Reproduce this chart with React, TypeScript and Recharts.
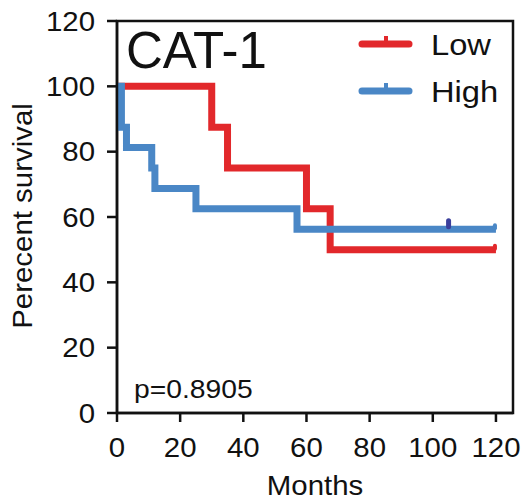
import { LineChart, Line, XAxis, YAxis, ReferenceArea, Legend } from "recharts";

const FONT = '"Liberation Sans", Arial, Helvetica, sans-serif';
const STRETCH = 1.09;
const RED = "#E2282B";
const BLUE = "#4A87C6";
const CENSOR = "#3B3F9C";
const INK = "#111";

// Kaplan-Meier steps: month of event, survival after it, censored flag
const lowMonths = [0, 30, 35, 60, 67.5, 120];
const lowSurvival = [100, 87.5, 75, 62.5, 50, 50];
const lowCensored = [0, 0, 0, 0, 0, 1];

const highMonths = [0, 1.4, 3, 11, 12, 25, 57, 105, 120];
const highSurvival = [100, 87.5, 81.25, 75, 68.75, 62.5, 56.25, 56.25, 56.25];
const highCensored = [0, 0, 0, 0, 0, 0, 0, 1, 1];

const groups = ["Low", "High"];
const xTicks = [0, 20, 40, 60, 80, 100, 120];
const yTicks = [0, 20, 40, 60, 80, 100, 120];

const title = "CAT-1";
const pValue = "p=0.8905";

const toRows = (months: number[], surv: number[], cens: number[]) =>
  months.map((m, i) => ({ month: m, survival: surv[i], censored: cens[i] === 1 }));

const lowData = toRows(lowMonths, lowSurvival, lowCensored);
const highData = toRows(highMonths, highSurvival, highCensored);

const censorDot = (color: string) => (props: any) => {
  const { cx, cy, payload, index } = props;
  if (!payload || !payload.censored) return <g key={`n-${index}`} />;
  if (payload.month >= 120) {
    return <rect key={`c-${index}`} x={cx - 3} y={cy - 6} width={4} height={7} rx={2} fill={color} />;
  }
  return <rect key={`c-${index}`} x={cx - 2.5} y={cy - 11} width={5} height={11} rx={2.5} fill={CENSOR} />;
};

const XTick = (props: any) => {
  const { x, y, payload } = props;
  return (
    <text
      transform={`translate(${x},${y}) scale(${STRETCH},1)`}
      textAnchor="middle"
      dy="0.71em"
      fontSize={27}
      fontFamily={FONT}
      fill={INK}
    >
      {payload.value}
    </text>
  );
};

const YTick = (props: any) => {
  const { x, y, payload } = props;
  return (
    <text
      transform={`translate(${x},${y}) scale(${STRETCH},1)`}
      textAnchor="end"
      dy="0.355em"
      fontSize={27}
      fontFamily={FONT}
      fill={INK}
    >
      {payload.value}
    </text>
  );
};

const XLabel = (props: any) => {
  const vb = props.viewBox;
  return (
    <text
      transform={`translate(${vb.x + vb.width / 2},${vb.y + 82}) scale(${STRETCH},1)`}
      textAnchor="middle"
      fontSize={27}
      fontFamily={FONT}
      fill={INK}
    >
      Months
    </text>
  );
};

const YLabel = () => (
  <text
    transform={`translate(32,216) rotate(-90) scale(${STRETCH},1)`}
    textAnchor="middle"
    fontSize={27}
    fontFamily={FONT}
    fill={INK}
  >
    Perecent survival
  </text>
);

const renderLegend = (props: any) => {
  const items = [...(props.payload || [])].sort(
    (a: any, b: any) => groups.indexOf(a.value) - groups.indexOf(b.value)
  );
  return (
    <svg width={166} height={100} style={{ display: "block" }}>
      {items.map((item: any, i: number) => {
        const cy = 24 + i * 47;
        return (
          <g key={item.value}>
            <line x1={10} x2={57} y1={cy} y2={cy} stroke={item.color} strokeWidth={7} strokeLinecap="round" />
            <rect x={32} y={cy - 8} width={4} height={8} fill={item.color} />
            <text
              transform={`translate(79,${cy + 11}) scale(${STRETCH},1)`}
              fontSize={30}
              fontFamily={FONT}
              fill={INK}
            >
              {item.value}
            </text>
          </g>
        );
      })}
    </svg>
  );
};

export default function App() {
  return (
    <div style={{ position: "absolute", left: 0, top: 0, width: 521, height: 500, background: "#fff" }}>
      <LineChart width={521} height={500} margin={{ top: 21, right: 8, bottom: 0, left: 0 }}>
        <XAxis
          type="number"
          dataKey="month"
          domain={[0, 125.4]}
          ticks={xTicks}
          allowDataOverflow
          height={87}
          tickSize={9}
          tickMargin={16}
          tick={<XTick />}
          axisLine={{ stroke: INK, strokeWidth: 2.5 }}
          tickLine={{ stroke: INK, strokeWidth: 2.5 }}
          label={{ content: <XLabel /> }}
        />
        <YAxis
          type="number"
          domain={[0, 120]}
          ticks={yTicks}
          width={117}
          tickSize={10}
          tickMargin={12}
          tick={<YTick />}
          axisLine={{ stroke: INK, strokeWidth: 2.5 }}
          tickLine={{ stroke: INK, strokeWidth: 2.5 }}
          label={{ content: <YLabel /> }}
        />
        <ReferenceArea
          x1={0}
          x2={125.4}
          y1={0}
          y2={120}
          fill="none"
          stroke={INK}
          strokeWidth={2.5}
          ifOverflow="visible"
        />
        <Line
          data={lowData}
          dataKey="survival"
          name="Low"
          type="stepAfter"
          stroke={RED}
          strokeWidth={7}
          dot={censorDot(RED)}
          activeDot={false}
          isAnimationActive={false}
        />
        <Line
          data={highData}
          dataKey="survival"
          name="High"
          type="stepAfter"
          stroke={BLUE}
          strokeWidth={7}
          dot={censorDot(BLUE)}
          activeDot={false}
          isAnimationActive={false}
        />
        <Legend
          layout="vertical"
          align="center"
          verticalAlign="middle"
          content={renderLegend}
          wrapperStyle={{ left: 352, top: 20, width: 166, height: 100 }}
        />
      </LineChart>
      <div
        style={{
          position: "absolute",
          left: 126,
          top: 25,
          fontFamily: FONT,
          fontSize: 51,
          lineHeight: "51px",
          color: INK,
          whiteSpace: "nowrap",
        }}
      >
        {title}
      </div>
      <div
        style={{
          position: "absolute",
          left: 134,
          top: 377,
          fontFamily: FONT,
          fontSize: 25,
          lineHeight: "25px",
          color: INK,
          whiteSpace: "nowrap",
          transform: `scaleX(${STRETCH + 0.04})`,
          transformOrigin: "left",
        }}
      >
        {pValue}
      </div>
    </div>
  );
}
